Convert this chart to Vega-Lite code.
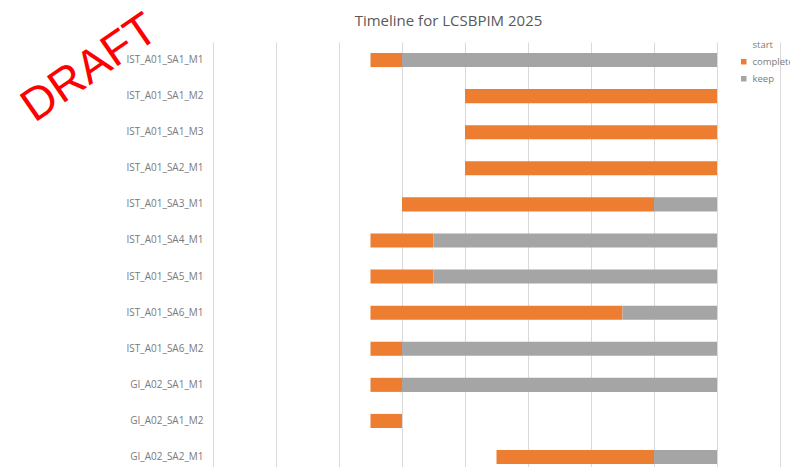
{
  "$schema": "https://vega.github.io/schema/vega-lite/v6.json",
  "width": 567,
  "height": 425,
  "autosize": {"type": "none"},
  "padding": {"left": 213, "top": 42, "right": 10, "bottom": 0},
  "title": {
    "text": "Timeline for LCSBPIM 2025",
    "font": "Open Sans",
    "fontSize": 15,
    "fontWeight": "normal",
    "color": "#595959",
    "anchor": "middle",
    "baseline": "bottom",
    "dx": -48,
    "offset": -38
  },
  "config": {
    "view": {"stroke": null},
    "font": "Open Sans"
  },
  "layer": [
    {
      "data": {
        "values": [
          {"task": "IST_A01_SA1_M1", "series": "complete", "from": 2.5, "to": 3},
          {"task": "IST_A01_SA1_M1", "series": "keep", "from": 3, "to": 8},
          {"task": "IST_A01_SA1_M2", "series": "complete", "from": 4, "to": 8},
          {"task": "IST_A01_SA1_M3", "series": "complete", "from": 4, "to": 8},
          {"task": "IST_A01_SA2_M1", "series": "complete", "from": 4, "to": 8},
          {"task": "IST_A01_SA3_M1", "series": "complete", "from": 3, "to": 7},
          {"task": "IST_A01_SA3_M1", "series": "keep", "from": 7, "to": 8},
          {"task": "IST_A01_SA4_M1", "series": "complete", "from": 2.5, "to": 3.5},
          {"task": "IST_A01_SA4_M1", "series": "keep", "from": 3.5, "to": 8},
          {"task": "IST_A01_SA5_M1", "series": "complete", "from": 2.5, "to": 3.5},
          {"task": "IST_A01_SA5_M1", "series": "keep", "from": 3.5, "to": 8},
          {"task": "IST_A01_SA6_M1", "series": "complete", "from": 2.5, "to": 6.5},
          {"task": "IST_A01_SA6_M1", "series": "keep", "from": 6.5, "to": 8},
          {"task": "IST_A01_SA6_M2", "series": "complete", "from": 2.5, "to": 3},
          {"task": "IST_A01_SA6_M2", "series": "keep", "from": 3, "to": 8},
          {"task": "GI_A02_SA1_M1", "series": "complete", "from": 2.5, "to": 3},
          {"task": "GI_A02_SA1_M1", "series": "keep", "from": 3, "to": 8},
          {"task": "GI_A02_SA1_M2", "series": "complete", "from": 2.5, "to": 3},
          {"task": "GI_A02_SA2_M1", "series": "complete", "from": 4.5, "to": 7},
          {"task": "GI_A02_SA2_M1", "series": "keep", "from": 7, "to": 8}
        ]
      },
      "mark": {"type": "bar"},
      "encoding": {
        "y": {
          "field": "task",
          "type": "nominal",
          "sort": null,
          "scale": {"paddingInner": 0.61, "paddingOuter": 0.193, "align": 0.79},
          "axis": {
            "title": null,
            "domain": false,
            "ticks": false,
            "grid": false,
            "labelPadding": 10,
            "labelFontSize": 10,
            "labelColor": "#7a7a7a",
            "labelFont": "Open Sans"
          }
        },
        "x": {
          "field": "from",
          "type": "quantitative",
          "scale": {"domain": [0, 9], "nice": false, "zero": false},
          "axis": {
            "title": null,
            "labels": false,
            "ticks": false,
            "domain": false,
            "grid": true,
            "gridColor": "#d9d9d9",
            "values": [0, 1, 2, 3, 4, 5, 6, 7, 8, 9]
          }
        },
        "x2": {"field": "to"},
        "color": {
          "field": "series",
          "type": "nominal",
          "scale": {
            "domain": ["start", "complete", "keep"],
            "range": ["transparent", "#ED7D31", "#A5A5A5"]
          },
          "legend": {
            "title": null,
            "orient": "none",
            "legendX": 526,
            "legendY": -2,
            "symbolType": "square",
            "symbolSize": 30,
            "symbolStrokeWidth": 0,
            "labelFontSize": 9.5,
            "labelColor": "#7a7a7a",
            "labelFont": "Open Sans",
            "rowPadding": 6,
            "labelLimit": 200
          }
        }
      }
    },
    {
      "data": {"values": [{}]},
      "mark": {
        "type": "text",
        "text": "DRAFT",
        "font": "Liberation Sans",
        "fontSize": 46,
        "color": "#ff0000",
        "angle": 325.5,
        "align": "center",
        "baseline": "middle",
        "dy": 10
      },
      "encoding": {
        "x": {"datum": -2.048, "type": "quantitative"},
        "y": {"datum": "IST_A01_SA1_M1", "type": "nominal"}
      }
    }
  ]
}
